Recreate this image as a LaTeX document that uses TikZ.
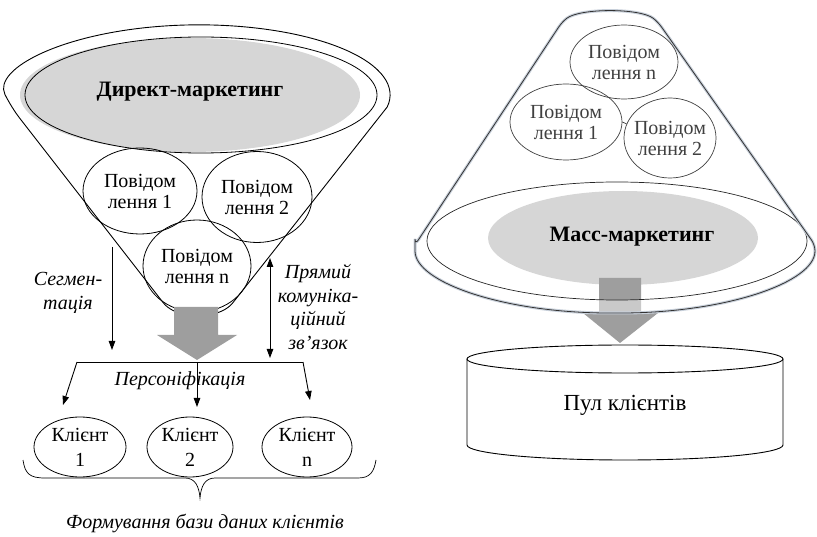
\documentclass[tikz,border=0pt]{standalone}
\usepackage{fontspec}
\setmainfont{Liberation Serif}
\usetikzlibrary{arrows.meta,shapes.geometric}
\definecolor{arrgray}{RGB}{158,158,158}
\definecolor{ellgray}{RGB}{214,214,214}
\definecolor{glow}{RGB}{200,208,218}
\begin{document}
\begin{tikzpicture}[x=1pt,y=-1pt,
  txt/.style={font=\fontsize{20}{21}\selectfont, align=center},
  ital/.style={font=\fontsize{20}{23.5}\selectfont\itshape, align=center, inner sep=0pt},
  ttl/.style={font=\fontsize{22}{24}\selectfont\bfseries, inner sep=0pt},
  msg/.style={ellipse, draw, line width=0.8pt, inner sep=-6pt, txt},
  rmsg/.style={ellipse, draw=black!75, line width=0.7pt, inner sep=-6pt, txt, text=black!75},
  arr/.style={-{Triangle[length=9pt,width=6.5pt]}, line width=0.9pt},
  darr/.style={{Triangle[length=9pt,width=6.5pt]}-{Triangle[length=9pt,width=6.5pt]}, line width=0.9pt},
  glowline/.style={preaction={draw=glow, line width=3pt}, draw=black!80, line width=0.8pt}
]
\useasboundingbox (0,0) rectangle (817,537);

% ---------------- left: direct marketing funnel ----------------
\fill[ellgray] (190,95) ellipse [x radius=170, y radius=57];
\draw[line width=0.8pt] (201,95) ellipse [x radius=176, y radius=58];
\node[ttl] (dm) at (190,92) {Директ-маркетинг};

\node[msg, minimum width=114pt, minimum height=86pt] (c1) at (140,191) {Повідом\\лення 1};
\node[msg, minimum width=110pt, minimum height=91pt] (c2) at (257,197) {Повідом\\лення 2};
\node[msg, minimum width=108pt, minimum height=92pt] (cn) at (197,266) {Повідом\\лення n};

\draw[line width=0.9pt] (11,107) arc [start angle=170, end angle=370, x radius=191, y radius=70]
  [rounded corners=14pt] -- (224,314) -- (172,314) -- cycle;

\fill[arrgray] (174,307) -- (218,307) -- (218,335) -- (237,335) -- (197,360) -- (157,335) -- (174,335) -- cycle;

% segmentation and feedback arrows
\coordinate (s1) at (112,247);
\coordinate (s2) at (112,350);
\draw[arr] (s1) -- (s2);
\node[ital] (seg) at (68,293) {Сегмен-\\тація};

\coordinate (p1) at (270,258);
\coordinate (p2) at (270,358);
\draw[darr] (p1) -- (p2);
\node[ital] (pr) at (318,307) {Прямий\\комуніка-\\ційний\\зв’язок};

% distribution line
\coordinate (hl) at (77,362);
\coordinate (hm) at (197,362);
\coordinate (hr) at (303,362);
\draw[line width=0.9pt] (hl) -- (hr);

\node[msg, font=\fontsize{20}{25}\selectfont, minimum width=92pt, minimum height=60pt] (k1) at (80,447) {Клієнт\\1};
\node[msg, font=\fontsize{20}{25}\selectfont, minimum width=86pt, minimum height=60pt] (k2) at (190,447) {Клієнт\\2};
\node[msg, font=\fontsize{20}{25}\selectfont, minimum width=90pt, minimum height=60pt] (kn) at (307,447) {Клієнт\\n};

\coordinate (t1) at (63,405);
\coordinate (t2) at (197,407);
\coordinate (t3) at (310,400);
\draw[arr] (hl) -- (t1);
\draw[arr] (hm) -- (t2);
\draw[arr] (hr) -- (t3);

\node[ital] (pers) at (180,381) {Персоніфікація};

% brace
\draw[line width=0.7pt] (23,460) .. controls (25,474) and (30,478) .. (45,478) -- (185,478)
  .. controls (195,478) and (199,486) .. (200,498) .. controls (201,486) and (205,478) .. (215,478)
  -- (358,478) .. controls (370,478) and (374,472) .. (376,460);
\node[ital] (db) at (205,523) {Формування бази даних клієнтів};

% ---------------- right: mass marketing cone ----------------
\fill[ellgray] (623,238) ellipse [x radius=135, y radius=47];
\fill[arrgray] (599,278) -- (641,278) -- (641,313) -- (658,313) -- (620,343) -- (583,313) -- (599,313) -- cycle;
\fill[white, fill opacity=0.45, even odd rule]
  (415,245) -- (562,22) .. controls (580,8) and (640,8) .. (658,22) -- (815,245)
  .. controls (815,282.5) and (725.4,313) .. (615,313) .. controls (504.6,313) and (415,282.5) .. (415,245) -- cycle
  (617,241) ellipse [x radius=190, y radius=59];
\draw[black!85, line width=0.7pt] (617,241) ellipse [x radius=190, y radius=59];
\draw[glowline, rounded corners=6pt] (415,245) -- (562,22) .. controls (580,8) and (640,8) .. (658,22) -- (815,245)
  .. controls (815,282.5) and (725.4,313) .. (615,313) .. controls (504.6,313) and (415,282.5) .. (415,245) -- cycle;
\node[ttl] (mm) at (632,237) {Масс-маркетинг};

\node[rmsg, minimum width=108pt, minimum height=74pt] (mn) at (624,62) {Повідом\\лення n};
\node[rmsg, minimum width=112pt, minimum height=76pt] (m1) at (566,122) {Повідом\\лення 1};
\node[rmsg, minimum width=92pt, minimum height=80pt] (m2) at (670,138) {Повідом\\лення 2};
\draw[black!75, line width=0.7pt] (m1.east) -- (m2.162);

% cylinder
\draw[line width=0.9pt, fill=white] (467,359) -- (467,445) arc [start angle=180, end angle=0, x radius=158, y radius=15] -- (783,359);
\draw[line width=0.9pt, fill=white] (625,359) ellipse [x radius=158, y radius=14];
\node[inner sep=0pt, font=\fontsize{23}{25}\selectfont] (pool) at (625,405) {Пул клієнтів};

\end{tikzpicture}
\end{document}
